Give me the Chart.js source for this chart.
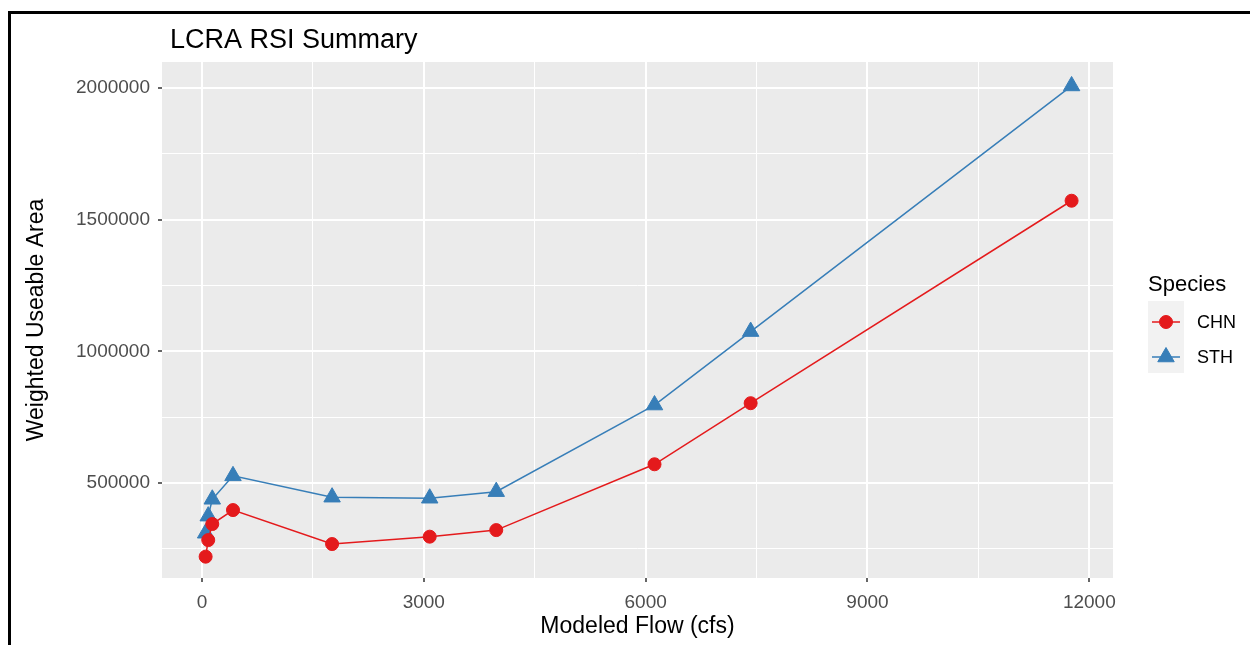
<!DOCTYPE html>
<html>
<head>
<meta charset="utf-8">
<script src="https://cdn.jsdelivr.net/npm/chart.js@4.4.2/dist/chart.umd.min.js"></script>
<style>
  html, body { margin: 0; padding: 0; background: #fff; overflow: hidden; }
  #frame { position: absolute; left: 8px; top: 11px; width: 1300px; height: 700px;
           border-left: 3px solid #000; border-top: 3px solid #000; }
  #chart { position: absolute; left: 0; top: 0; }
</style>
</head>
<body>
<div id="frame"></div>
<canvas id="chart" width="1250" height="645"></canvas>
<script>
// data
const flow = [50, 85, 140, 420, 1760, 3080, 3980, 6120, 7420, 11760];
const chn = [220000, 283000, 344000, 397000, 268000, 296000, 321000, 571000, 803000, 1572000];
const sth = [309000, 374000, 438000, 527000, 446000, 442000, 467000, 796000, 1075000, 2008000];

const xMajor = [0, 3000, 6000, 9000, 12000];
const xMinor = [1500, 4500, 7500, 10500];
const yMajor = [500000, 1000000, 1500000, 2000000];
const yMinor = [250000, 750000, 1250000, 1750000];

const seriesNames = ['CHN', 'STH'];
const seriesColors = ['#E41A1C', '#377EB8'];

const FONT = '"Liberation Sans", Arial, sans-serif';

function toPoints(ys) {
    return flow.map((x, i) => ({ x, y: ys[i] }));
}

function gridTicks(major, minor) {
    return major.concat(minor).sort((a, b) => a - b).map(v => ({ value: v }));
}

// grey panel, title and legend (ggplot style)
const decor = {
    id: 'decor',
    beforeDraw(chart) {
        const { ctx, chartArea: a } = chart;
        ctx.save();
        ctx.fillStyle = '#EBEBEB';
        ctx.fillRect(a.left, a.top, a.right - a.left, a.bottom - a.top);
        ctx.restore();
    },
    afterDraw(chart) {
        const ctx = chart.ctx;
        ctx.save();
        ctx.fillStyle = '#000';
        ctx.textBaseline = 'alphabetic';
        ctx.font = '27px ' + FONT;
        ctx.fillText('LCRA RSI Summary', 170, 48);

        ctx.font = '22px ' + FONT;
        ctx.fillText('Species', 1148, 291);

        ctx.fillStyle = '#F2F2F2';
        ctx.fillRect(1148, 301, 36, 72);

        const keyY = [322, 357];
        seriesNames.forEach((name, i) => {
            const y = keyY[i];
            ctx.strokeStyle = seriesColors[i];
            ctx.fillStyle = seriesColors[i];
            ctx.lineWidth = 1.5;
            ctx.beginPath();
            ctx.moveTo(1152, y);
            ctx.lineTo(1180, y);
            ctx.stroke();
            ctx.lineWidth = 1;
            Chart.helpers.drawPoint(ctx, {
                pointStyle: i === 0 ? 'circle' : 'triangle',
                radius: i === 0 ? 6.5 : 9.5,
                rotation: 0,
                borderWidth: 1
            }, 1166, y);
            ctx.fillStyle = '#000';
            ctx.font = '18px ' + FONT;
            ctx.textBaseline = 'middle';
            ctx.fillText(name, 1197, y + 1);
        });
        ctx.restore();
    }
};

const data = {
    datasets: [{
        label: 'CHN',
        data: toPoints(chn),
        borderColor: seriesColors[0],
        backgroundColor: seriesColors[0],
        borderWidth: 1.5,
        pointStyle: 'circle',
        pointRadius: 6.5,
        pointBorderWidth: 1,
        tension: 0
    }, {
        label: 'STH',
        data: toPoints(sth),
        borderColor: seriesColors[1],
        backgroundColor: seriesColors[1],
        borderWidth: 1.5,
        pointStyle: 'triangle',
        pointRadius: 9.5,
        pointBorderWidth: 1,
        tension: 0
    }]
};

const options = {
    responsive: false,
    animation: false,
    layout: {
        padding: { top: 62, right: 137, bottom: 0, left: 0 }
    },
    plugins: {
        legend: { display: false },
        tooltip: { enabled: false }
    },
    scales: {
        x: {
            type: 'linear',
            min: -540,
            max: 12320,
            afterBuildTicks: s => { s.ticks = gridTicks(xMajor, xMinor); },
            afterFit: s => { s.height = 67; },
            border: { display: false },
            grid: {
                color: '#FFFFFF',
                lineWidth: c => xMajor.includes(c.tick.value) ? 2 : 1,
                tickColor: c => xMajor.includes(c.tick.value) ? '#333333' : 'rgba(0,0,0,0)',
                tickLength: 4,
                tickWidth: 1.5
            },
            ticks: {
                autoSkip: false,
                maxRotation: 0,
                padding: 9,
                color: '#4D4D4D',
                font: { size: 19, family: FONT },
                callback: v => xMajor.includes(v) ? String(v) : ''
            },
            title: {
                display: true,
                text: 'Modeled Flow (cfs)',
                color: '#000',
                font: { size: 23, family: FONT },
                padding: { top: 0, bottom: 5 }
            }
        },
        y: {
            type: 'linear',
            min: 139000,
            max: 2099000,
            afterBuildTicks: s => { s.ticks = gridTicks(yMajor, yMinor); },
            afterFit: s => { s.width = 162; },
            border: { display: false },
            grid: {
                color: '#FFFFFF',
                lineWidth: c => yMajor.includes(c.tick.value) ? 2 : 1,
                tickColor: c => yMajor.includes(c.tick.value) ? '#333333' : 'rgba(0,0,0,0)',
                tickLength: 4,
                tickWidth: 1.5
            },
            ticks: {
                autoSkip: false,
                padding: 8,
                color: '#4D4D4D',
                font: { size: 19, family: FONT },
                callback: v => yMajor.includes(v) ? String(v) : ''
            },
            title: {
                display: true,
                text: 'Weighted Useable Area',
                color: '#000',
                font: { size: 23, family: FONT },
                padding: { top: 23, bottom: 0 }
            }
        }
    }
};

new Chart(document.getElementById('chart'), {
    type: 'line',
    data,
    options,
    plugins: [decor]
});
</script>
</body>
</html>
